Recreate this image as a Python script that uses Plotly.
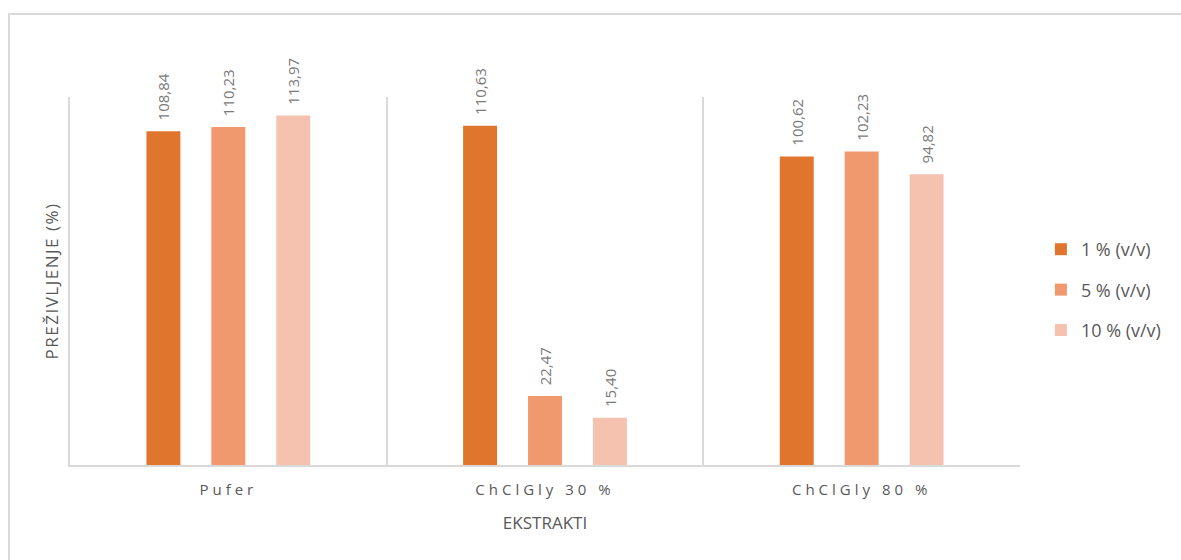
import plotly.graph_objects as go

categories = ["Pufer", "ChClGly 30 %", "ChClGly 80 %"]
series_names = ["1 % (v/v)", "5 % (v/v)", "10 % (v/v)"]
values_1 = [108.84, 110.63, 100.62]
values_5 = [110.23, 22.47, 102.23]
values_10 = [113.97, 15.40, 94.82]
colors = ["#E0752D", "#F0996F", "#F5C2B0"]

fig = go.Figure()
for i, (name, vals) in enumerate(zip(series_names, [values_1, values_5, values_10])):
    fig.add_trace(go.Bar(
        x=categories, y=vals, name=name,
        marker=dict(color=colors[i], line=dict(width=0)),
        texttemplate="\u00a0\u00a0%{y:.2f}", textposition="outside", textangle=-90,
        textfont=dict(family="Open Sans, sans-serif", size=15, color="#7a7a7a"),
        cliponaxis=False, constraintext="none",
        legendgroup=f"g{i}",
    ))

fig.update_layout(
    width=1181, height=560,
    margin=dict(l=70, r=161, t=97, b=95, autoexpand=False),
    paper_bgcolor="white", plot_bgcolor="white",
    separators=", ",
    barmode="group", bargap=0.385, bargroupgap=0.477,
    font=dict(family="Open Sans, sans-serif", color="#595959"),
    showlegend=True,
    legend=dict(x=1.022, xanchor="left", y=0.4755, yanchor="middle",
                font=dict(size=18, color="#595959"), tracegroupgap=14,
                traceorder="grouped", itemclick=False),
    xaxis=dict(
        type="category", tickson="boundaries", showgrid=True,
        gridcolor="#d9d9d9", gridwidth=1.5, ticks="",
        showline=True, linecolor="#d9d9d9", linewidth=1.5,
        tickfont=dict(size=15, color="#595959"), ticklabelstandoff=10,
        title=dict(text="EKSTRAKTI", font=dict(size=17, color="#595959"), standoff=19),
    ),
    yaxis=dict(
        range=[0, 120], showticklabels=False, showgrid=False, zeroline=False,
        showline=True, linecolor="#d9d9d9", linewidth=1.5, ticks="",
        title=dict(text="PREŽIVLJENJE (%)", font=dict(size=17, color="#595959"), standoff=5),
    ),
    shapes=[dict(type="rect", xref="paper", yref="paper",
                 x0=-0.0642, x1=1.2, y0=-0.3, y1=1.2255,
                 line=dict(color="#d9d9d9", width=2), fillcolor="rgba(0,0,0,0)", layer="below")],
)

post = """
document.body.style.margin='0';
document.body.style.overflow='hidden';
document.querySelectorAll('.xtick text').forEach(function(t){t.style.letterSpacing='4px';});
document.querySelectorAll('.ytitle').forEach(function(t){t.style.letterSpacing='1.5px';});
"""
fig.write_html("out.html", post_script=post, config={"displayModeBar": False})
